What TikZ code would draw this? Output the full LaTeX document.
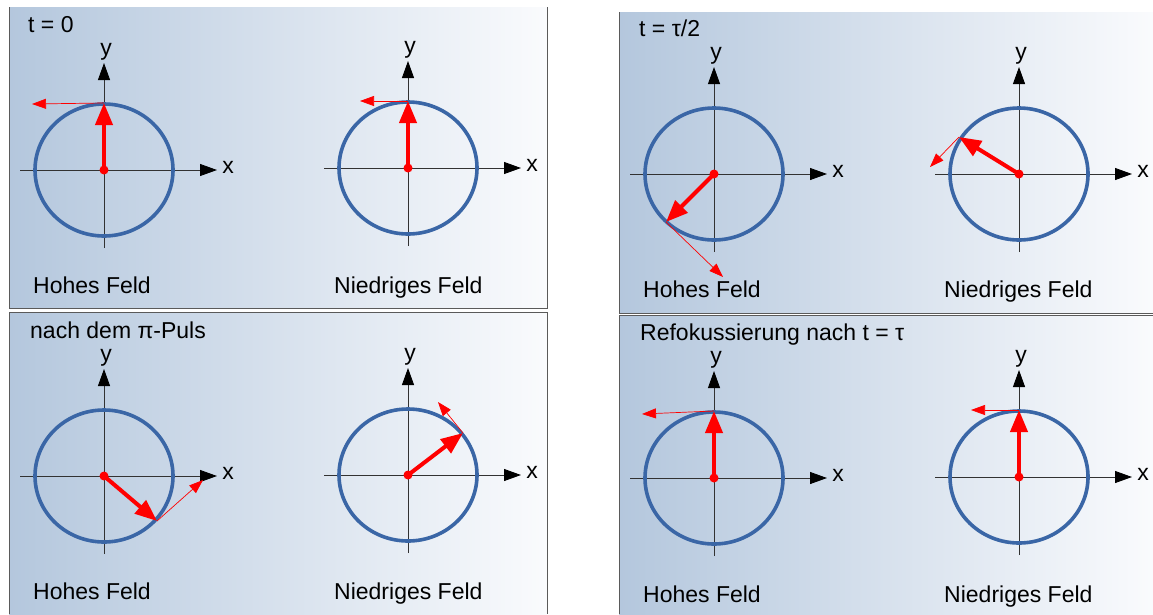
\documentclass[tikz,border=0pt]{standalone}
\usepackage{fontspec}
\setmainfont{Liberation Sans}
\usetikzlibrary{arrows.meta}
\definecolor{ringblue}{RGB}{58,102,166}
\definecolor{bgleft}{RGB}{180,199,221}
\definecolor{bgright}{RGB}{250,251,253}
\definecolor{axisgray}{RGB}{50,50,50}
\definecolor{framegray}{RGB}{90,90,90}
\tikzset{
 panelfill/.style={left color=bgleft, right color=bgright, draw=none},
 frameline/.style={draw=framegray, line width=0.9pt},
 ring/.style={draw=ringblue, line width=3.6pt},
 axisarrow/.style={draw=axisgray, line width=0.9pt, -{Triangle[length=17pt,width=12pt,color=black]}},
 spinvec/.style={draw=red, line width=4pt, -{Triangle[length=22pt,width=17pt]}},
 tangvec/.style={draw=red, line width=0.7pt, -{Triangle[length=14pt,width=10pt]}},
 spindot/.style={circle, fill=red, inner sep=0pt, minimum size=9pt},
 lbl/.style={font=\fontsize{23}{27}\selectfont, inner sep=0pt, anchor=base west},
 axlbl/.style={font=\fontsize{23}{27}\selectfont, inner sep=0pt, anchor=base},
}
% #1 name, #2 cx, #3 cy, #4 tipx, #5 tipy, #6 tangent end x, #7 tangent end y
\newcommand\spinplot[7]{%
 \coordinate (#1c) at (#2,#3);
 \coordinate (#1xa) at (#2-84,#3);
 \coordinate (#1xb) at (#2+113,#3);
 \coordinate (#1ya) at (#2,#3+78);
 \coordinate (#1yb) at (#2,#3-107);
 \coordinate (#1t) at (#4,#5);
 \coordinate (#1n) at (#6,#7);
 \draw[axisarrow] (#1xa) -- (#1xb);
 \draw[axisarrow] (#1ya) -- (#1yb);
 \draw[ring] (#1c) ellipse [x radius=69pt, y radius=66pt];
 \node[axlbl] (#1xlab) at (#2+124,#3+3) {x};
 \node[axlbl] (#1ylab) at (#2+2,#3-115) {y};
 \draw[tangvec] (#1t) -- (#1n);
 \draw[spinvec] (#1c) -- (#1t);
 \node[spindot] (#1dot) at (#1c) {};
}
\begin{document}
\begin{tikzpicture}[x=1pt,y=-1pt]
\useasboundingbox (0,0) rectangle (1153,614);
\fill[white] (0,0) rectangle (1153,614);
% panels
\fill[panelfill] (9,7) rectangle (547,308);
\draw[frameline] (9,7) -- (9,308) -- (547,308) -- (547,7);
\fill[panelfill] (9,312) rectangle (547,614);
\draw[frameline] (9,614) -- (9,312) -- (547,312) -- (547,614);
\fill[panelfill] (619,12) rectangle (1153,313);
\draw[frameline] (619,12) -- (619,313) -- (1153,313);
\fill[panelfill] (619,315) rectangle (1153,614);
\draw[frameline] (619,614) -- (619,315) -- (1153,315);
% plots
\spinplot{a}{104}{170}{104}{103}{32}{104}
\spinplot{b}{408}{168}{408}{101}{360}{101}
\spinplot{c}{714}{174}{666}{222}{723}{277}
\spinplot{d}{1019}{174}{959}{137}{930}{167}
\spinplot{e}{104}{476}{157}{521}{203}{480}
\spinplot{f}{408}{475}{463}{433}{438}{402}
\spinplot{g}{714}{478}{714}{411}{642}{414}
\spinplot{h}{1019}{477}{1019}{410}{971}{410}
% titles and captions
\node[lbl] (t1) at (28,32) {t = 0};
\node[lbl] (t2) at (30,338) {nach dem π-Puls};
\node[lbl] (t3) at (639,36) {t = τ/2};
\node[lbl] (t4) at (640,340) {Refokussierung nach t = τ};
\node[lbl] (c1) at (33,293) {Hohes Feld};
\node[lbl] (c2) at (334,293) {Niedriges Feld};
\node[lbl] (c3) at (643,297) {Hohes Feld};
\node[lbl] (c4) at (944,297) {Niedriges Feld};
\node[lbl] (c5) at (33,599) {Hohes Feld};
\node[lbl] (c6) at (334,599) {Niedriges Feld};
\node[lbl] (c7) at (643,602) {Hohes Feld};
\node[lbl] (c8) at (944,602) {Niedriges Feld};
\end{tikzpicture}
\end{document}
